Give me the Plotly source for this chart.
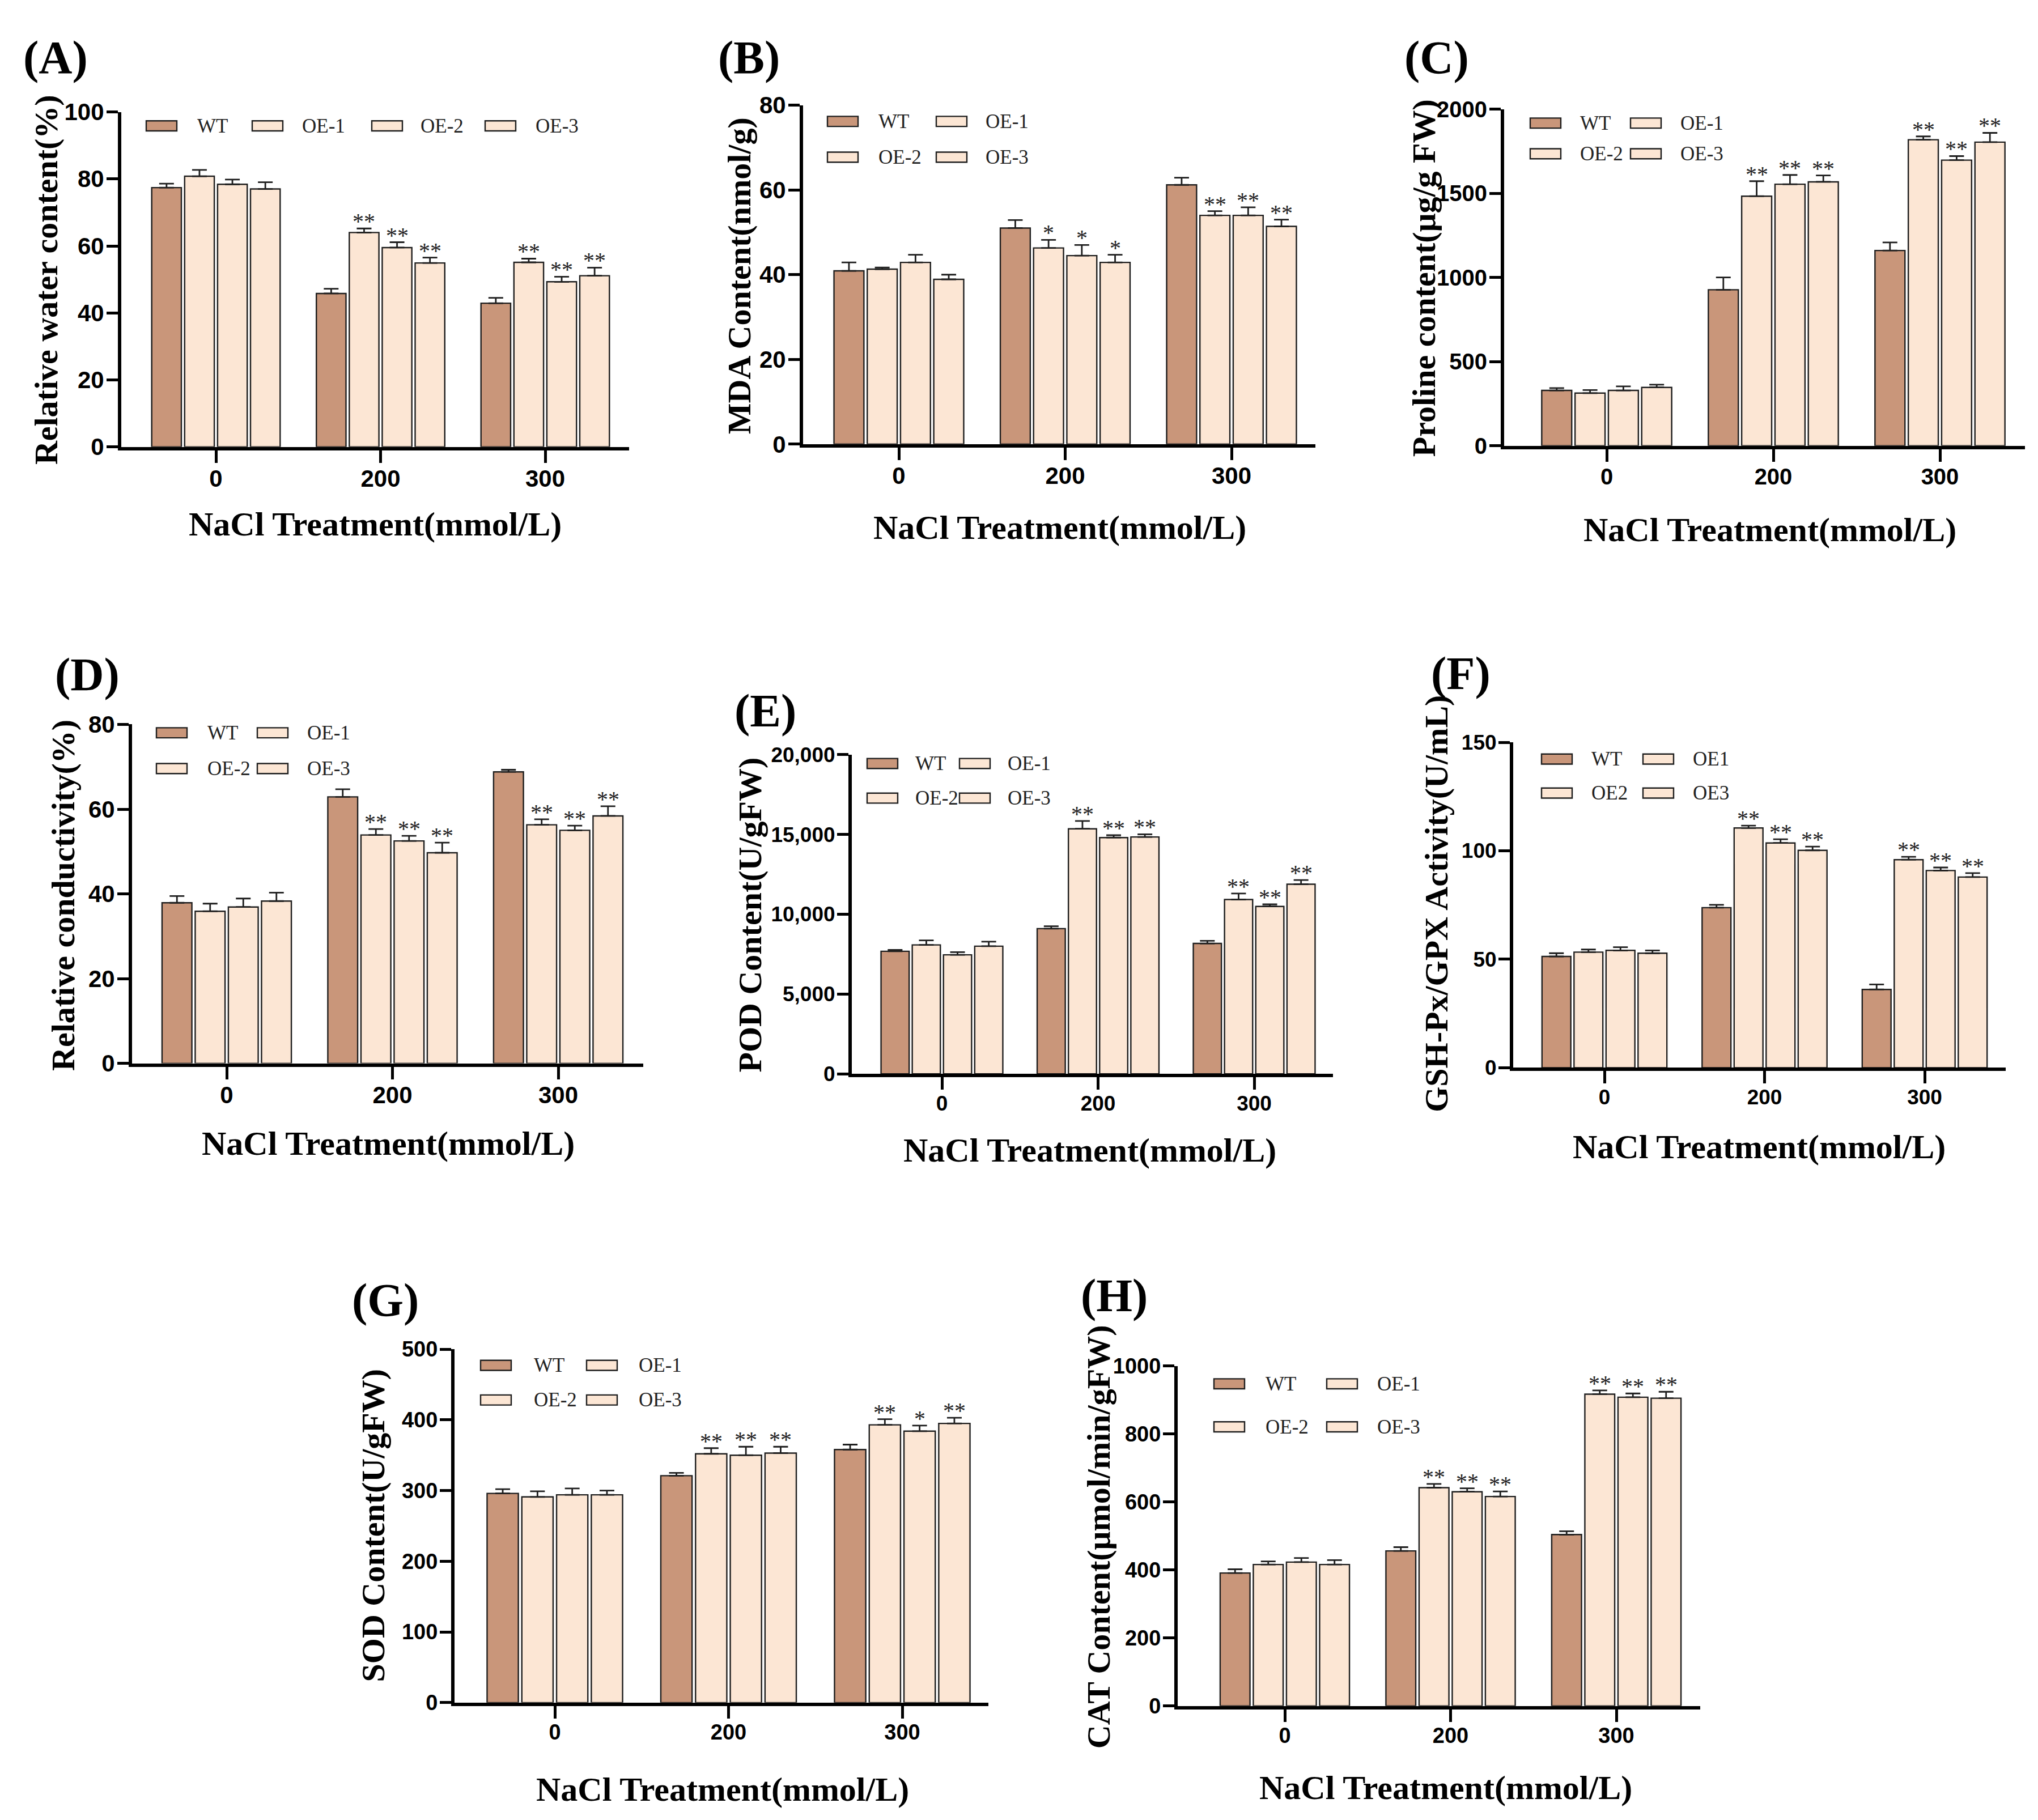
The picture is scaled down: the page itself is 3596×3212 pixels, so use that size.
import plotly.graph_objects as go

W, H = 3596, 3212

# ---------------- data ----------------
treatments = ["0", "200", "300"]
genotypes = ["WT", "OE-1", "OE-2", "OE-3"]
genotypes_F = ["WT", "OE1", "OE2", "OE3"]

# (A) Relative water content (%)  rows: WT, OE-1, OE-2, OE-3 ; cols: 0, 200, 300
rwc_mean = [[77.4, 45.8, 42.9], [80.8, 64.0, 55.1], [78.4, 59.5, 49.3], [77.0, 54.9, 51.1]]
rwc_err = [[1.2, 1.4, 1.6], [1.9, 1.2, 1.1], [1.4, 1.6, 1.5], [2.0, 1.6, 2.4]]
rwc_sig = [["", "", ""], ["", "**", "**"], ["", "**", "**"], ["", "**", "**"]]

# (B) MDA content (nmol/g)
mda_mean = [[40.9, 51.0, 61.2], [41.3, 46.3, 54.0], [42.9, 44.5, 54.0], [38.9, 42.9, 51.4]]
mda_err = [[2.0, 1.9, 1.7], [0.4, 1.9, 1.0], [1.8, 2.5, 1.9], [1.1, 1.8, 1.6]]
mda_sig = [["", "", ""], ["", "*", "**"], ["", "*", "**"], ["", "*", "**"]]

# (C) Proline content (ug/g FW)
pro_mean = [[329, 927, 1160], [313, 1483, 1818], [329, 1554, 1697], [347, 1568, 1804]]
pro_err = [[14, 73, 48], [18, 89, 20], [24, 55, 24], [16, 38, 55]]
pro_sig = [["", "", ""], ["", "**", "**"], ["", "**", "**"], ["", "**", "**"]]

# (D) Relative conductivity (%)
rc_mean = [[37.9, 62.9, 68.8], [35.9, 53.9, 56.3], [36.9, 52.5, 55.0], [38.3, 49.7, 58.4]]
rc_err = [[1.6, 1.8, 0.5], [1.8, 1.4, 1.3], [2.0, 1.2, 1.1], [2.0, 2.4, 2.3]]
rc_sig = [["", "", ""], ["", "**", "**"], ["", "**", "**"], ["", "**", "**"]]

# (E) POD content (U/gFW)
pod_mean = [[7680, 9100, 8170], [8080, 15350, 10920], [7460, 14800, 10490], [8000, 14840, 11880]]
pod_err = [[85, 150, 170], [280, 490, 380], [170, 150, 130], [280, 170, 260]]
pod_sig = [["", "", ""], ["", "**", "**"], ["", "**", "**"], ["", "**", "**"]]

# (F) GSH-Px/GPX activity (U/mL)
gpx_mean = [[51.3, 73.8, 36.1], [53.3, 110.5, 95.9], [54.1, 103.6, 90.9], [52.8, 100.2, 87.9]]
gpx_err = [[1.5, 1.3, 2.3], [1.2, 1.1, 1.3], [1.5, 1.7, 1.4], [1.3, 1.7, 1.8]]
gpx_sig = [["", "", ""], ["", "**", "**"], ["", "**", "**"], ["", "**", "**"]]

# (G) SOD content (U/gFW)
sod_mean = [[296, 321, 358], [291, 352, 393], [294, 350, 384], [294, 353, 395]]
sod_err = [[6, 4, 7], [8, 8, 8], [9, 12, 8], [6, 9, 8]]
sod_sig = [["", "", ""], ["", "**", "**"], ["", "**", "*"], ["", "**", "**"]]

# (H) CAT content (umol/min/gFW)
cat_mean = [[391, 456, 504], [416, 642, 917], [423, 630, 908], [416, 616, 905]]
cat_err = [[11, 11, 10], [9, 11, 11], [12, 10, 11], [13, 15, 19]]
cat_sig = [["", "", ""], ["", "**", "**"], ["", "**", "**"], ["", "**", "**"]]

# ---------------- styling / layout ----------------
colors = ["#C9967A", "#FCE6D4", "#FCE6D4", "#FCE6D4"]
EDGE = "#1e1e1e"
SERIF = "Liberation Serif"
SANS = "Liberation Sans"
BAR_W = 0.18
PITCH = 0.2

panels = [
    dict(label="(A)", ytitle="Relative water content(%)", mean=rwc_mean, err=rwc_err, sig=rwc_sig,
         names=genotypes, ymax=100, dtick=20, fmt="",
         box=(206, 1102, 169, 769), ticks=(373, 954), tfs=42,
         lab=(90, 72), xt=(654, 907), yt=(73, 470),
         leg=[(250, 338, 194), (437, 523, 194), (648, 732, 194), (848, 935, 194)]),
    dict(label="(B)", ytitle="MDA Content(nmol/g)", mean=mda_mean, err=mda_err, sig=mda_sig,
         names=genotypes, ymax=80, dtick=20, fmt="",
         box=(1409, 2313, 157, 764), ticks=(1578, 2165), tfs=42,
         lab=(1313, 72), xt=(1862, 913), yt=(1296, 463),
         leg=[(1452, 1540, 186), (1644, 1729, 186), (1452, 1540, 250), (1644, 1729, 250)]),
    dict(label="(C)", ytitle="Proline content(μg/g FW)", mean=pro_mean, err=pro_err, sig=pro_sig,
         names=genotypes, ymax=2000, dtick=500, fmt="",
         box=(2646, 3565, 164, 767), ticks=(2827, 3415), tfs=40,
         lab=(2527, 72), xt=(3115, 917), yt=(2504, 467),
         leg=[(2692, 2778, 189), (2869, 2955, 189), (2692, 2778, 244), (2869, 2955, 244)]),
    dict(label="(D)", ytitle="Relative conductivity(%)", mean=rc_mean, err=rc_err, sig=rc_sig,
         names=genotypes, ymax=80, dtick=20, fmt="",
         box=(225, 1127, 1266, 1873), ticks=(392, 977), tfs=42,
         lab=(146, 1177), xt=(677, 2017), yt=(104, 1572),
         leg=[(268, 356, 1281), (446, 532, 1281), (268, 356, 1345), (446, 532, 1345)]),
    dict(label="(E)", ytitle="POD Content(U/gFW)", mean=pod_mean, err=pod_err, sig=pod_sig,
         names=genotypes, ymax=20000, dtick=5000, fmt=",d",
         box=(1495, 2344, 1320, 1892), ticks=(1654, 2205), tfs=37,
         lab=(1342, 1242), xt=(1915, 2029), yt=(1315, 1607),
         leg=[(1522, 1605, 1336), (1685, 1768, 1336), (1522, 1605, 1398), (1685, 1768, 1398)]),
    dict(label="(F)", ytitle="GSH-Px/GPX Activity(U/mL)", mean=gpx_mean, err=gpx_err, sig=gpx_sig,
         names=genotypes_F, ymax=150, dtick=50, fmt="",
         box=(2662, 3531, 1298, 1881), ticks=(2823, 3388), tfs=37,
         lab=(2569, 1175), xt=(3096, 2023), yt=(2527, 1587),
         leg=[(2712, 2798, 1328), (2891, 2977, 1328), (2712, 2798, 1389), (2891, 2977, 1389)]),
    dict(label="(G)", ytitle="SOD Content(U/gFW)", mean=sod_mean, err=sod_err, sig=sod_sig,
         names=genotypes, ymax=500, dtick=100, fmt="",
         box=(794, 1736, 2385, 3018), ticks=(971, 1584), tfs=38,
         lab=(672, 2297), xt=(1267, 3173), yt=(650, 2701),
         leg=[(840, 932, 2414), (1027, 1117, 2414), (840, 932, 2476), (1027, 1117, 2476)]),
    dict(label="(H)", ytitle="CAT Content(μmol/min/gFW)", mean=cat_mean, err=cat_err, sig=cat_sig,
         names=genotypes, ymax=1000, dtick=200, fmt="",
         box=(2070, 2992, 2415, 3024), ticks=(2259, 2844), tfs=38,
         lab=(1958, 2289), xt=(2543, 3170), yt=(1930, 2721),
         leg=[(2134, 2223, 2447), (2333, 2420, 2447), (2134, 2223, 2524), (2333, 2420, 2524)]),
]


def px(x):
    return x / W


def py(y):
    return 1 - y / H


fig = go.Figure()
annotations = []
shapes = []
layout = {}

for k, p in enumerate(panels):
    n = k + 1
    sfx = "" if n == 1 else str(n)
    xa, ya = "x" + sfx, "y" + sfx
    x0, x1, ytop, yzero = p["box"]
    t0, t2 = p["ticks"]
    sp = (t2 - t0) / 2.0
    xr = [(x0 - t0) / sp, (x1 - t0) / sp]

    layout["xaxis" + sfx] = dict(
        domain=[px(x0), px(x1)], anchor=ya, range=xr,
        tickmode="array", tickvals=[0, 1, 2], ticktext=treatments,
        showline=True, linewidth=6, linecolor="black",
        ticks="outside", ticklen=22, tickwidth=5, tickcolor="black",
        ticklabelstandoff=-8,
        showgrid=False, zeroline=False,
        tickfont=dict(family=SANS, size=p["tfs"], color="black", weight="bold"),
    )
    layout["yaxis" + sfx] = dict(
        domain=[py(yzero), py(ytop)], anchor=xa, range=[0, p["ymax"]],
        tickmode="linear", tick0=0, dtick=p["dtick"], tickformat=p["fmt"],
        showline=True, linewidth=6, linecolor="black",
        ticks="outside", ticklen=20, tickwidth=5, tickcolor="black",
        ticklabelstandoff=-4,
        showgrid=False, zeroline=False,
        tickfont=dict(family=SANS, size=p["tfs"], color="black", weight="bold"),
    )

    for i, g in enumerate(p["names"]):
        off = -0.39 + i * PITCH
        fig.add_trace(go.Bar(
            x=[0, 1, 2], y=p["mean"][i], name=g, showlegend=False,
            xaxis=xa, yaxis=ya, width=BAR_W, offset=off,
            marker=dict(color=colors[i], line=dict(color=EDGE, width=2.4)),
            error_y=dict(type="data", array=p["err"][i], arrayminus=[0, 0, 0],
                         symmetric=False, color=EDGE, thickness=2.8, width=13),
        ))
        for j in range(3):
            s = p["sig"][i][j]
            if s:
                annotations.append(dict(
                    x=j + off + BAR_W / 2, y=p["mean"][i][j] + p["err"][i][j],
                    xref=xa, yref=ya, text=s, showarrow=False,
                    xanchor="center", yanchor="bottom", yshift=-12,
                    font=dict(family=SERIF, size=40, color="#222"),
                ))
        # legend entry
        sx, tx, ly = p["leg"][i]
        shapes.append(dict(
            type="rect", xref="paper", yref="paper",
            x0=px(sx), x1=px(sx + 54), y0=py(ly + 9), y1=py(ly - 9),
            fillcolor=colors[i], line=dict(color=EDGE, width=2.4),
        ))
        annotations.append(dict(
            x=px(tx), y=py(ly), xref="paper", yref="paper", text=g,
            showarrow=False, xanchor="left", yanchor="middle",
            font=dict(family=SERIF, size=35, color="#222"),
        ))

    # panel label
    annotations.append(dict(
        x=px(p["lab"][0]), y=py(p["lab"][1]), xref="paper", yref="paper",
        text=p["label"], showarrow=False, xanchor="center", yanchor="middle",
        font=dict(family=SERIF, size=82, color="black", weight="bold"),
    ))
    # x title
    annotations.append(dict(
        x=px(p["xt"][0]), y=py(p["xt"][1]), xref="paper", yref="paper",
        text="NaCl Treatment(mmol/L)", showarrow=False, xanchor="center", yanchor="middle",
        font=dict(family=SERIF, size=60, color="black", weight="bold"),
    ))
    # y title
    annotations.append(dict(
        x=px(p["yt"][0]), y=py(p["yt"][1]), xref="paper", yref="paper",
        text=p["ytitle"], showarrow=False, xanchor="center", yanchor="middle",
        textangle=-90,
        font=dict(family=SERIF, size=58, color="black", weight="bold"),
    ))

fig.update_layout(
    width=W, height=H, autosize=False,
    margin=dict(l=0, r=0, t=0, b=0),
    paper_bgcolor="white", plot_bgcolor="white",
    barmode="overlay", showlegend=False,
    annotations=annotations, shapes=shapes,
    **layout,
)

fig.write_html("out.html")
